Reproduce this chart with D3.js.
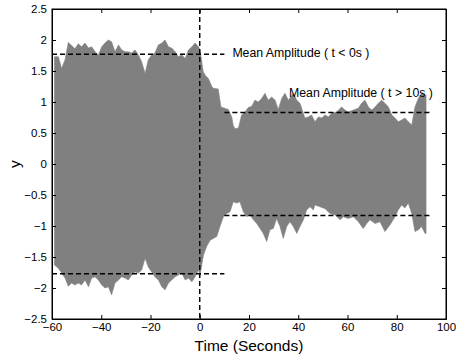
<!DOCTYPE html>
<html>
<head>
<meta charset="utf-8">
<script src="https://cdn.jsdelivr.net/npm/d3@7"></script>
<style>
  body { margin: 0; background: #fff; }
  svg { display: block; font-family: "Liberation Sans", Arial, sans-serif; }
</style>
</head>
<body>
<script>
// upper edge of the oscillation envelope (time in s, value)
const upperT = [-59, -57.4, -56.1, -54.7, -53.4, -52.0, -50.7, -49.3, -48.0, -46.6, -45.2, -43.9, -42.5, -41.2,
  -39.8, -38.5, -37.1, -35.8, -34.4, -33.0, -31.7, -30.3, -29.0, -27.6, -26.3, -24.9, -23.6, -22.2, -20.9,
  -19.5, -18.2, -16.8, -15.4, -14.1, -12.7, -11.4, -10.0, -8.7, -7.3, -5.9, -4.6, -3.2, -1.9, -0.5, 0.1,
  1.4, 2.2, 3.5, 4.9, 5.5, 7.5, 8.6, 10.1, 11.6, 13.0, 13.6, 14.3, 15.7, 17.0, 18.4, 19.7, 21.1, 22.4,
  23.8, 25.2, 26.5, 27.8, 29.2, 30.6, 31.9, 33.3, 34.6, 36.0, 38.0, 39.4, 40.7, 42.7, 44.1, 45.4, 46.8,
  48.2, 49.5, 50.9, 52.2, 53.6, 55.6, 57.6, 59.0, 60.3, 62.4, 64.4, 65.7, 67.1, 68.5, 69.8, 71.2, 72.5,
  73.9, 75.2, 76.6, 78.0, 79.3, 80.6, 82.0, 83.3, 84.7, 86.1, 87.4, 88.8, 90.1, 91.5, 91.9];
const upperV = [1.73, 1.73, 1.54, 1.68, 1.96, 1.91, 1.86, 1.94, 1.89, 1.95, 1.87, 1.89, 1.81, 1.76,
  1.89, 1.95, 2.00, 1.97, 1.81, 1.92, 1.84, 1.81, 1.81, 1.79, 1.84, 1.76, 1.65, 1.46, 1.68,
  1.76, 1.79, 1.92, 1.95, 2.00, 1.89, 1.87, 1.81, 1.73, 1.76, 1.70, 1.84, 1.89, 1.95, 1.89, 1.84,
  1.49, 1.43, 1.38, 1.25, 1.22, 1.21, 0.92, 0.90, 0.88, 0.76, 0.62, 0.57, 0.58, 0.79, 0.84, 0.91, 0.93, 1.03,
  1.00, 1.06, 1.14, 1.03, 1.08, 1.03, 0.88, 1.06, 1.14, 1.03, 1.14, 1.03, 0.98, 0.74, 0.76, 0.79, 0.68,
  0.76, 0.74, 0.79, 0.76, 0.82, 0.84, 0.92, 0.87, 0.84, 0.87, 0.90, 0.98, 1.03, 0.92, 0.87, 0.92, 0.98,
  1.03, 0.98, 0.92, 0.79, 0.74, 0.68, 0.71, 0.74, 0.68, 0.63, 0.92, 1.06, 1.14, 1.11, 1.11];

// lower edge of the envelope
const lowerT = [-59, -57.4, -56.1, -54.7, -53.4, -52.0, -50.7, -49.3, -48.0, -46.6, -45.2, -43.9, -42.5, -41.2,
  -39.8, -38.5, -37.1, -35.8, -34.4, -33.0, -31.7, -30.3, -29.0, -27.6, -26.3, -24.9, -23.6, -22.2, -20.9,
  -19.5, -18.2, -16.8, -15.4, -14.1, -12.7, -11.4, -10.0, -8.7, -7.3, -5.9, -4.6, -3.2, -1.9, -0.5, 0.1,
  1.5, 2.8, 4.2, 5.5, 6.9, 8.2, 9.6, 11.0, 12.3, 13.6, 15.0, 16.3, 17.7, 19.0, 20.4, 21.8, 23.1, 24.5,
  25.8, 27.2, 28.5, 29.9, 31.2, 32.6, 33.9, 35.3, 36.6, 38.0, 39.4, 40.7, 42.1, 43.4, 44.8, 46.1, 46.8,
  48.8, 50.9, 52.9, 54.9, 57.0, 58.3, 60.3, 62.4, 64.4, 66.4, 67.8, 69.1, 71.2, 73.2, 75.2, 77.3, 79.3,
  80.6, 82.0, 83.3, 84.7, 86.1, 87.4, 88.8, 90.1, 91.5, 91.9];
const lowerV = [-1.63, -1.68, -1.76, -1.84, -1.97, -1.92, -1.95, -1.92, -1.95, -1.87, -1.98, -1.84, -1.82, -1.87,
  -1.95, -2.00, -1.98, -2.11, -1.92, -1.87, -1.82, -1.84, -1.87, -1.79, -1.74, -1.76, -1.71, -1.52, -1.66,
  -1.74, -1.82, -1.87, -1.98, -2.03, -1.92, -1.87, -1.82, -1.79, -1.76, -1.87, -1.84, -1.90, -1.82, -1.71, -1.80,
  -1.47, -1.33, -1.23, -1.20, -1.17, -1.01, -0.85, -0.80, -0.77, -0.61, -0.63, -0.61, -0.77, -0.85, -0.82, -0.90, -0.96, -1.04,
  -1.12, -1.25, -1.06, -1.04, -0.88, -1.01, -1.20, -1.01, -0.93, -1.01, -1.12, -1.01, -0.90, -0.74, -0.69, -0.74, -0.66,
  -0.69, -0.72, -0.80, -0.82, -0.90, -0.85, -0.88, -0.85, -0.93, -1.04, -0.96, -0.90, -0.96, -0.93, -1.09, -0.98, -0.85,
  -0.74, -0.66, -0.71, -0.63, -0.80, -1.09, -1.06, -1.01, -1.12, -1.12];

// mean amplitude markers: [t start, t end, level]
const meanBefore = [-60, 10, 1.77];
const meanAfter = [10, 94, 0.83];
const meanLabels = ["Mean Amplitude ( t < 0s )", "Mean Amplitude ( t > 10s )"];

const xTicks = [-60, -40, -20, 0, 20, 40, 60, 80, 100];
const yTicks = [-2.5, -2, -1.5, -1, -0.5, 0, 0.5, 1, 1.5, 2, 2.5];

function main() {
  const width = 461;
  const height = 361;
  const margin = { top: 9, right: 15, bottom: 42, left: 52 };

  const x = d3.scaleLinear()
    .domain([-60, 100])
    .range([margin.left, width - margin.right]);

  const y = d3.scaleLinear()
    .domain([-2.5, 2.5])
    .range([height - margin.bottom, margin.top]);

  const svg = d3.create("svg")
    .attr("width", width)
    .attr("height", height);

  svg.append("rect")
    .attr("width", width)
    .attr("height", height)
    .attr("fill", "white");

  // filled envelope: upper edge forward, lower edge back
  const pts = upperT.map((t, i) => [t, upperV[i]])
    .concat(lowerT.map((t, i) => [t, lowerV[i]]).reverse());
  const line = d3.line()
    .x(d => x(d[0]))
    .y(d => y(d[1]));
  svg.append("path")
    .attr("d", line(pts) + "Z")
    .attr("fill", "#808080")
    .attr("stroke", "#808080")
    .attr("stroke-width", 0.6);

  const fmt = d => String(d).replace("-", "\u2212");

  const yTop = height - margin.bottom;
  // axes, ticks pointing inward (matlab style)
  svg.append("g")
    .attr("transform", `translate(0,${yTop})`)
    .call(d3.axisBottom(x).tickValues(xTicks).tickFormat(fmt).tickSizeInner(-4).tickSizeOuter(0).tickPadding(4));
  svg.append("g")
    .attr("transform", `translate(0,${margin.top})`)
    .call(d3.axisTop(x).tickValues(xTicks).tickFormat("").tickSizeInner(-4).tickSizeOuter(0));
  svg.append("g")
    .attr("transform", `translate(${margin.left},0)`)
    .call(d3.axisLeft(y).tickValues(yTicks).tickFormat(fmt).tickSizeInner(-4).tickSizeOuter(0).tickPadding(5));
  svg.append("g")
    .attr("transform", `translate(${width - margin.right},0)`)
    .call(d3.axisRight(y).tickValues(yTicks).tickFormat("").tickSizeInner(-4).tickSizeOuter(0));

  svg.selectAll(".tick text")
    .attr("font-size", 11.5)
    .attr("font-family", "Liberation Sans, Arial, sans-serif")
    .attr("fill", "#000");
  svg.selectAll(".domain").attr("stroke", "#000");

  svg.append("rect")
    .attr("x", margin.left)
    .attr("y", margin.top)
    .attr("width", width - margin.left - margin.right)
    .attr("height", yTop - margin.top)
    .attr("fill", "none")
    .attr("stroke", "#000");

  // dashed reference lines
  const dash = "5,3";
  svg.append("line")
    .attr("x1", x(0)).attr("x2", x(0))
    .attr("y1", y(2.5)).attr("y2", y(-2.5))
    .attr("stroke", "#000").attr("stroke-width", 1.4).attr("stroke-dasharray", dash);

  [meanBefore, meanAfter].forEach(m => {
    [m[2], -m[2]].forEach(v => {
      svg.append("line")
        .attr("x1", x(m[0])).attr("x2", x(m[1]))
        .attr("y1", y(v)).attr("y2", y(v))
        .attr("stroke", "#000").attr("stroke-width", 1.4).attr("stroke-dasharray", dash);
    });
  });

  svg.append("text")
    .attr("x", x(meanBefore[1]) + 8)
    .attr("y", y(meanBefore[2]) + 3)
    .attr("font-size", 12.3)
    .text(meanLabels[0]);
  svg.append("text")
    .attr("x", 289)
    .attr("y", y(meanAfter[2]) - 16)
    .attr("font-size", 12.3)
    .text(meanLabels[1]);

  // axis titles
  svg.append("text")
    .attr("x", (margin.left + width - margin.right) / 2)
    .attr("y", 351)
    .attr("text-anchor", "middle")
    .attr("font-size", 15.5)
    .text("Time (Seconds)");
  svg.append("text")
    .attr("transform", `translate(20,${(margin.top + yTop) / 2}) rotate(-90)`)
    .attr("text-anchor", "middle")
    .attr("font-size", 15.5)
    .text("y");

  document.body.appendChild(svg.node());
}

main();
</script>
</body>
</html>
